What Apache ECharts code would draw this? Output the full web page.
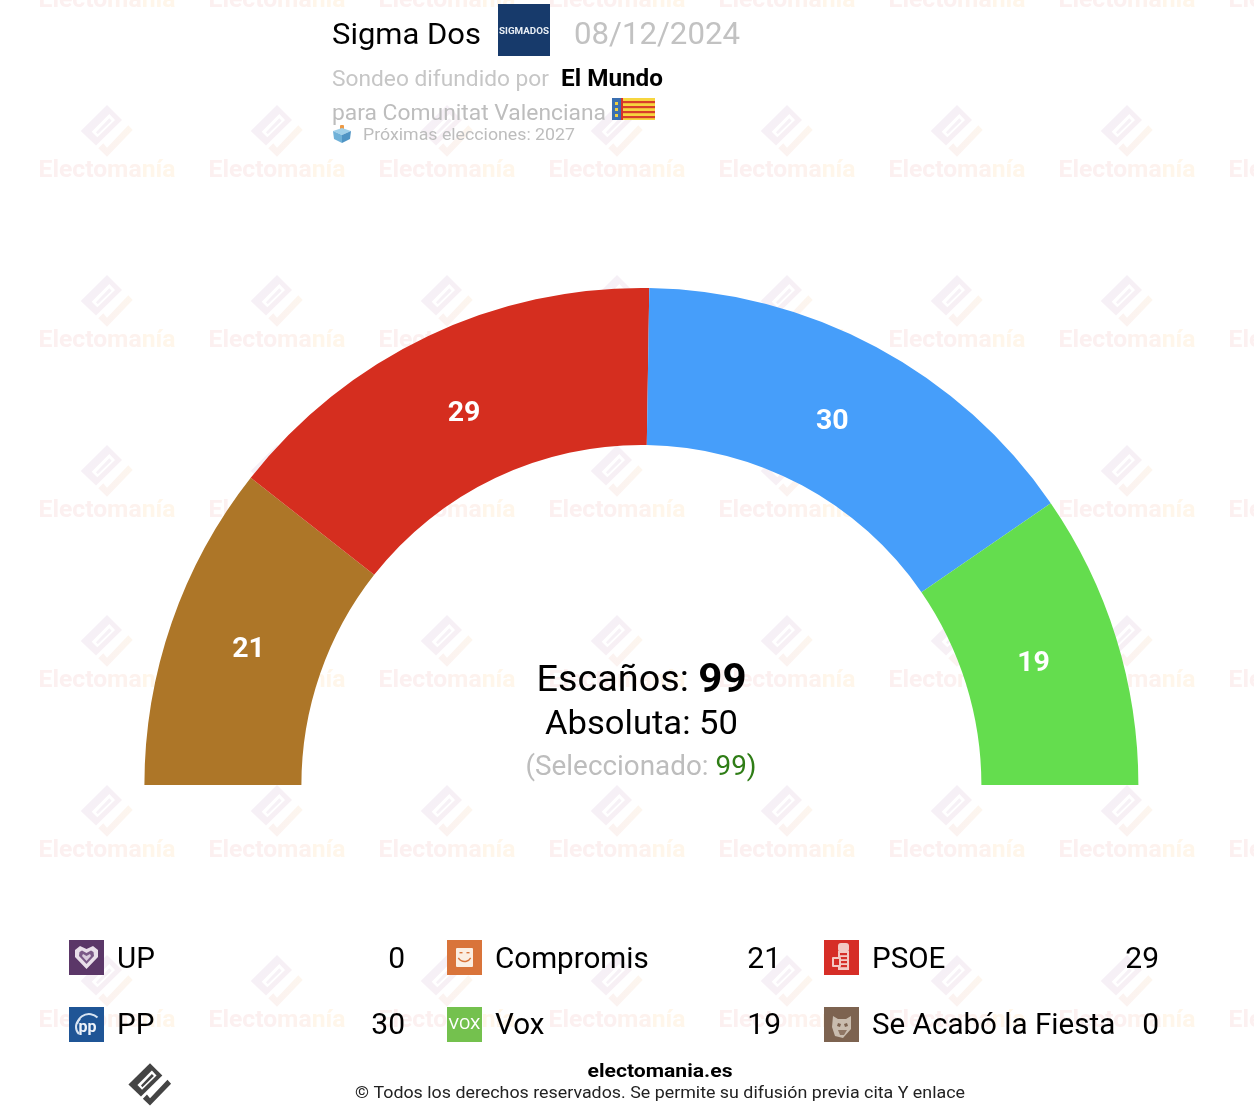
<!DOCTYPE html>
<html><head><meta charset="utf-8">
<style>html,body{margin:0;padding:0;background:#fff}#c{width:1254px;height:1118px}</style>
<script src="https://cdn.jsdelivr.net/npm/echarts@6/dist/echarts.min.js"></script></head>
<body><div id="c"></div>
<script>
const partyNames = ['UP','Compromis','PSOE','PP','Vox','Se Acabó la Fiesta'];
const partySeats = [0,21,29,30,19,0];
const arcColors = ['#5b3768','#ad7628','#d52e1f','#469efa','#64dd4e','#7d6350'];
const iconColors = ['#5b3768','#d9743a','#d62e27','#1f5596','#74c14e','#7d6350'];
const totalSeats = 99;
const majority = 50;
const selected = 99;
const pollster = 'Sigma Dos';
const pollDate = '08/12/2024';
const media = 'El Mundo';
const region = 'Comunitat Valenciana';
const nextElection = '2027';

const F = 'Roboto, sans-serif';
const chart = echarts.init(document.getElementById('c'), null, {renderer:'canvas', width:1254, height:1118});
const mctx = document.createElement('canvas').getContext('2d');
function fitScale(text,font,w){ if(!w) return 1; mctx.font=font; return w/mctx.measureText(text).width; }

function txt(x,y,text,size,fill,opt){
  opt=opt||{};
  const font=(opt.weight||'400')+' '+size+'px '+F;
  return {type:'text',x,y:y+2,scaleX:fitScale(text,font,opt.w),silent:true,z:10,
    style:{text,fill,font,textAlign:opt.align||'left',textVerticalAlign:'middle',verticalAlign:'middle'}};
}
function poly(points,fill,z){return {type:'polygon',silent:true,z:z,shape:{points},style:{fill}};}
function rect(x,y,w,h,fill,z,r){return {type:'rect',silent:true,z:z,shape:{x,y,width:w,height:h,r:r||0},style:{fill}};}
function arc(cx,cy,r,a0,a1,stroke,lw,z){return {type:'arc',silent:true,z:z,shape:{cx,cy,r,startAngle:a0,endAngle:a1},style:{stroke,lineWidth:lw,fill:null}};}
const logoBody=[[-26.3,0],[0,-26],[15,-11],[-11,14.5]];
const logoSlot=[[-15.3,.7],[2.3,-17],[8,-11],[-9.7,6.3]];
const logoBar=[[-11,1.3],[2.3,-12.7],[4.7,-10.3],[-9.3,3.3]];
const logoCheck=[[25.7,-1],[0,25.7],[-8.7,17.3],[-3.7,12.3],[0,16.7],[21.3,-5.7]];
const wmFont='700 23px '+F;
const wmScale=fitScale('Electomanía',wmFont,137);

function watermark(cx,cy){
  const g1=new echarts.graphic.LinearGradient(0,0,1,1,[{offset:0,color:'#f4f0f8'},{offset:1,color:'#f9f0f3'}]);
  const g2=new echarts.graphic.LinearGradient(0,1,1,0,[{offset:0,color:'#fbf2f1'},{offset:1,color:'#fdf6ee'}]);
  return {type:'group',x:cx,y:cy,silent:true,z:-5,children:[
    poly(logoBody,g1,-5),poly(logoSlot,'#ffffff',-4),poly(logoBar,'#f6f1f6',-3),poly(logoCheck,g2,-5),
    {type:'text',x:0,y:40.5,scaleX:wmScale,z:-5,silent:true,style:{
      text:'{a|Electo}{b|ma}{c|nía}',textAlign:'center',textVerticalAlign:'middle',verticalAlign:'middle',
      rich:{a:{font:wmFont,fill:'#fcf0f0'},b:{font:wmFont,fill:'#fdf2ee'},c:{font:wmFont,fill:'#fff6ea'}}}}
  ]};
}
const g=[];
[-39,131,301,471,641,811,981].forEach(y=>{[107,277,447,617,787,957,1127,1297].forEach(x=>g.push(watermark(x,y)));});

/* header */
g.push(txt(332,34,pollster,30,'#000',{w:149}));
g.push(rect(498,4,52,52,'#173a6b',10));
g.push(txt(524,29.5,'SIGMADOS',9.5,'#e8eef5',{weight:'700',align:'center',w:50}));
g.push(txt(574,34,pollDate,31,'#c2c2c2',{w:166}));
g.push(txt(332,78,'Sondeo difundido por',22,'#c6c6c6',{w:217}));
g.push(txt(561,78,media,23,'#000',{weight:'700',w:102}));
g.push(txt(332,112,'para '+region,22,'#bdbdbd',{w:274}));
/* flag */
g.push(rect(612,98,11,22,'#3a6fb0',10));
g.push(rect(621,98,2.5,22,'#d6322a',10));
g.push(rect(623,98,32,22,'#f7d63f',10));
[101,106,111,116].forEach(y=>g.push(rect(623,y,32,2.2,'#d8402a',11)));
[102,108,114].forEach(y=>g.push(rect(615,y,3,3,'#f0d040',11)));
/* ballot */
g.push(rect(340,125,4,7,'#ee9a45',10,1));
g.push(poly([[333,131],[342,128],[351,131],[342,135]],'#9fd0ea',10));
g.push(poly([[333,131],[342,135],[342,143],[334,139]],'#6fb1d8',10));
g.push(poly([[351,131],[342,135],[342,143],[350,139]],'#4f94c4',10));
g.push(txt(363,134,'Próximas elecciones: '+nextElection,17,'#bdbdbd',{w:212}));

/* centre */
g.push({type:'text',x:641.5,y:682,scaleX:1.05,silent:true,z:10,style:{
  text:'{a|Escaños: }{b|'+totalSeats+'}',textAlign:'center',textVerticalAlign:'middle',verticalAlign:'middle',
  rich:{a:{font:'400 36px '+F,fill:'#000'},b:{font:'700 40px '+F,fill:'#000'}}}});
g.push(txt(641.5,724,'Absoluta: '+majority,33.5,'#000',{align:'center',w:193}));
g.push({type:'text',x:641,y:768,scaleX:1.013,silent:true,z:10,style:{
  text:'{a|(Seleccionado: }{b|'+selected+')}',textAlign:'center',textVerticalAlign:'middle',verticalAlign:'middle',
  rich:{a:{font:'400 27.5px '+F,fill:'#bdbdbd'},b:{font:'400 27.5px '+F,fill:'#2f7d16'}}}});

/* legend */
const colX=[69,447,824], valX=[405,781,1159], rowY=[958,1024], iconY=[940,1007];
function icon(i,x,y){
  const c=[rect(0,0,35,35,iconColors[i],10)];
  if(i===0){
    c.push(poly([[17.5,29],[6,17],[6,10],[11,6],[17.5,9],[24,6],[29,10],[29,17]],'#e9dfea',11));
    c.push(poly([[17.5,24],[10,16],[10.5,12],[13,10.5],[17.5,13],[22,10.5],[24.5,12],[25,16]],'#7b5a88',12));
    c.push(poly([[17.5,21],[13,16],[14,14],[17.5,16],[21,14],[22,16]],'#d9cbdd',13));
  } else if(i===1){
    c.push(rect(9,8,17,19,'#fbeee2',11,1));
    c.push(arc(17.5,14.5,7,0.5,Math.PI-0.5,'#d9743a',1.4,12));
    c.push(rect(12.5,12,3,1.4,'#d9743a',12));c.push(rect(19.5,12,3,1.4,'#d9743a',12));
  } else if(i===2){
    const L='#f3c9c3',R=iconColors[2];
    c.push(rect(14,3,11,9,L,11,3));
    c.push(rect(14,11,11,19,L,11));
    [13,17,21,25].forEach(y=>c.push(rect(16,y,7,2.2,R,12)));
    c.push(rect(8,17,9,10,L,12,1));
    c.push(rect(10,19,5,6,R,13));
  } else if(i===3){
    c.push({type:'text',x:18.5,y:21,z:11,silent:true,style:{text:'pp',fill:'#eef3fa',font:'700 16px '+F,textAlign:'center',textVerticalAlign:'middle',verticalAlign:'middle'}});
    c.push(arc(20,19,12,Math.PI*1.05,Math.PI*1.75,'#d8e4f2',2,11));
    c.push(arc(17,20,10,Math.PI*0.75,Math.PI*1.3,'#d8e4f2',2,11));
  } else if(i===4){
    c.push({type:'text',x:17.5,y:18.5,scaleX:1.1,z:11,silent:true,style:{text:'VOX',fill:'#fff',font:'400 15px '+F,textAlign:'center',textVerticalAlign:'middle',verticalAlign:'middle'}});
  } else {
    c.push(poly([[9,9],[14,12],[22,12],[27,9],[27,22],[19,31],[11,29],[8,20]],'#c9bcae',11));
    c.push(poly([[14,16],[17,17],[16,20],[13,19]],'#7d6350',12));
    c.push(poly([[23,16],[20,17],[21,20],[24,19]],'#7d6350',12));
    c.push(poly([[14,23],[23,23],[20,28],[16,28]],'#8f7664',12));
  }
  return {type:'group',x,y,silent:true,z:10,children:c};
}
partyNames.forEach((n,i)=>{
  const col=i%3,row=Math.floor(i/3),y=rowY[row];
  g.push(icon(i,colX[col],iconY[row]));
  g.push(txt(colX[col]+48,y+1,n,29.6,'#000'));
  g.push(txt(valX[col],y,String(partySeats[i]),30,'#000',{align:'right'}));
});

/* footer */
g.push({type:'group',x:150,y:1084.5,scaleX:.82,scaleY:.82,silent:true,z:10,children:[
  poly(logoBody,'#444',10),poly(logoSlot,'#fff',11),poly(logoBar,'#444',12),poly(logoCheck,'#444',10)]});
g.push(txt(660,1070,'electomania.es',19,'#000',{weight:'700',align:'center',w:145}));
g.push(txt(660,1092,'© Todos los derechos reservados. Se permite su difusión previa cita Y enlace',16.5,'#222',{align:'center',w:610}));

const slices=[];
partyNames.forEach((n,i)=>{ if(partySeats[i]>0) slices.push({name:n,value:partySeats[i],itemStyle:{color:arcColors[i]}}); });
const hiddenSlice={name:'hidden',value:totalSeats,itemStyle:{color:'rgba(0,0,0,0)'},label:{show:false},labelLine:{show:false}};
const nudgeX=[-5,-1,-3,0], nudgeY=[-1,0,-1,1];

chart.setOption({
  animation:false,backgroundColor:'#fff',
  graphic:{elements:g},
  series:[
    {type:'pie',z:2,center:[641.4,785],radius:[340,497],startAngle:180,clockwise:true,silent:true,
     label:{show:false},labelLine:{show:false},data:slices.concat([hiddenSlice])},
    {type:'pie',z:3,center:[641.5,785],radius:[320,495],startAngle:180,clockwise:true,silent:true,avoidLabelOverlap:false,
     itemStyle:{color:'rgba(0,0,0,0)'},
     label:{show:true,position:'inside',formatter:'{c}',color:'#fff',fontFamily:'Roboto',fontWeight:700,fontSize:28.5},
     labelLayout:p=>({dx:nudgeX[p.dataIndex]||0,dy:nudgeY[p.dataIndex]||0}),
     labelLine:{show:false},
     data:slices.map(s=>({name:s.name,value:s.value,itemStyle:{color:'rgba(0,0,0,0)'}})).concat([hiddenSlice])}
  ]
});
</script></body></html>
